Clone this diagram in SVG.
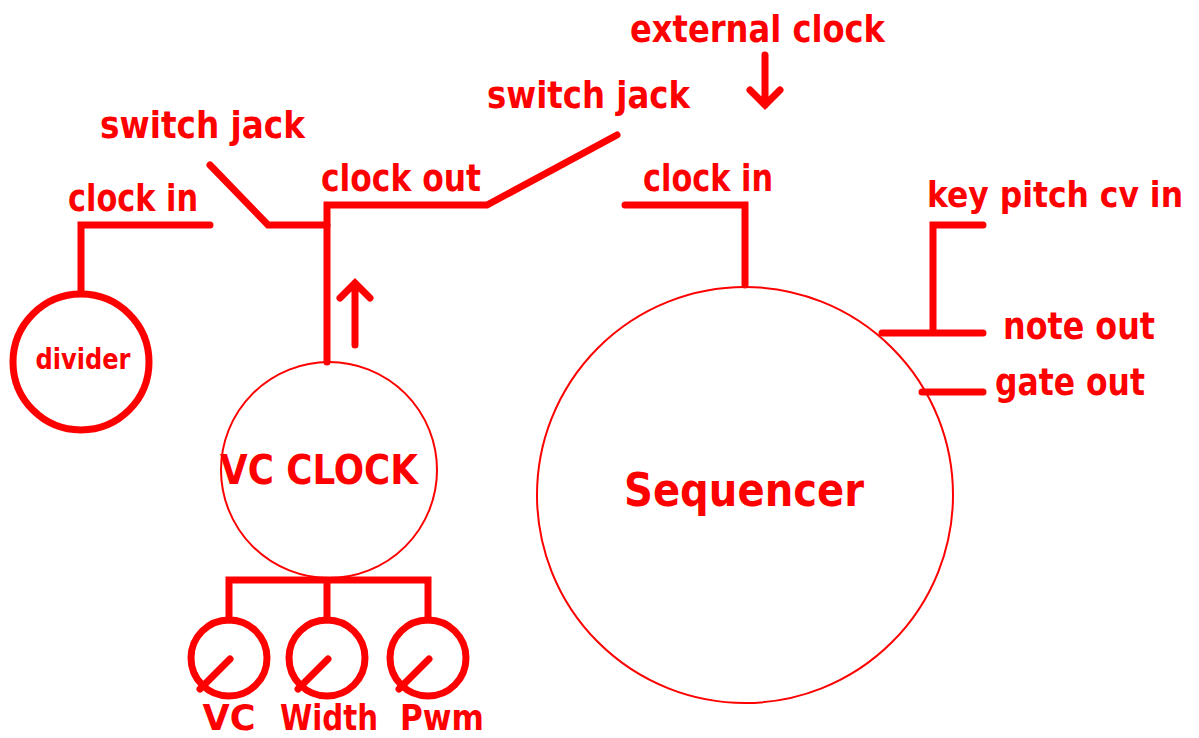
<svg xmlns="http://www.w3.org/2000/svg" width="1199" height="738" viewBox="0 0 1199 738">
<style>
.w{stroke:#fe0000;stroke-width:7;fill:none;stroke-linecap:round;stroke-linejoin:miter}
.thin{stroke:#fe0000;stroke-width:2;fill:none}
.t{fill:#fe0000;font-family:"DejaVu Sans Condensed","DejaVu Sans",sans-serif;font-weight:bold}
</style>
<rect width="1199" height="738" fill="#fff"/>
<g id="connectors">
<path class="w" d="M81,292 V225 H210"/>
<path class="w" d="M210,165 L268,225 H327"/>
<path class="w" d="M327,362 V205 H487 L617,135"/>
<path class="w" d="M355,345 V283 M340,298 L355,283 L370,298"/>
<path class="w" d="M765,55 V105 M750,90 L765,105 L780,90"/>
<path class="w" d="M625,205 H745 V285"/>
<path class="w" d="M983,225 H933 V333 M882,333 H983"/>
<path class="w" d="M922,392 H983"/>
<path class="w" d="M229,620 V580 H428 V620 M327,580 V620"/>
</g>
<g id="divider">
<circle class="w" cx="81" cy="362" r="68"/>
<text class="t" x="83" y="369" font-size="28" text-anchor="middle" textLength="95" lengthAdjust="spacingAndGlyphs">divider</text>
</g>
<g id="vcclock">
<circle class="thin" cx="329" cy="470" r="108"/>
<text class="t" x="319" y="484" font-size="40" text-anchor="middle" textLength="198" lengthAdjust="spacingAndGlyphs">VC CLOCK</text>
</g>
<g id="sequencer">
<circle class="thin" cx="745" cy="495" r="208"/>
<text class="t" x="744" y="506" font-size="47" text-anchor="middle" textLength="240" lengthAdjust="spacingAndGlyphs">Sequencer</text>
</g>
<g id="knob-vc">
<circle class="w" cx="229" cy="658" r="38"/>
<path class="w" d="M200,689 L230,659"/>
<text class="t" x="229" y="730" font-size="35" text-anchor="middle" textLength="53" lengthAdjust="spacingAndGlyphs">VC</text>
</g>
<g id="knob-width">
<circle class="w" cx="327" cy="658" r="38"/>
<path class="w" d="M298,689 L328,659"/>
<text class="t" x="329" y="730" font-size="35" text-anchor="middle" textLength="98" lengthAdjust="spacingAndGlyphs">Width</text>
</g>
<g id="knob-pwm">
<circle class="w" cx="428" cy="658" r="38"/>
<path class="w" d="M399,689 L429,659"/>
<text class="t" x="442" y="730" font-size="35" text-anchor="middle" textLength="84" lengthAdjust="spacingAndGlyphs">Pwm</text>
</g>
<g id="labels">
<text class="t" x="630" y="42" font-size="38" textLength="255" lengthAdjust="spacingAndGlyphs">external clock</text>
<text class="t" x="487" y="108" font-size="38" textLength="203" lengthAdjust="spacingAndGlyphs">switch jack</text>
<text class="t" x="100" y="138" font-size="38" textLength="205" lengthAdjust="spacingAndGlyphs">switch jack</text>
<text class="t" x="68" y="211" font-size="38" textLength="130" lengthAdjust="spacingAndGlyphs">clock in</text>
<text class="t" x="321" y="191" font-size="38" textLength="160" lengthAdjust="spacingAndGlyphs">clock out</text>
<text class="t" x="643" y="191" font-size="38" textLength="130" lengthAdjust="spacingAndGlyphs">clock in</text>
<text class="t" x="927" y="207" font-size="36" textLength="256" lengthAdjust="spacingAndGlyphs">key pitch cv in</text>
<text class="t" x="1003" y="339" font-size="38" textLength="152" lengthAdjust="spacingAndGlyphs">note out</text>
<text class="t" x="995" y="395" font-size="38" textLength="150" lengthAdjust="spacingAndGlyphs">gate out</text>
</g>
</svg>
